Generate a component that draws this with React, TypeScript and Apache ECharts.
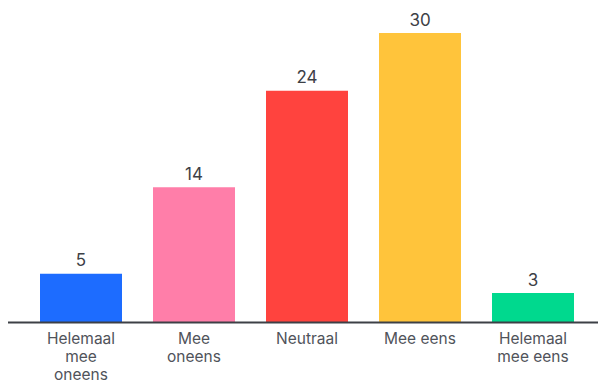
import React, { useEffect, useRef } from "react";
import * as echarts from "echarts";

const categories = ["Helemaal\nmee\noneens", "Mee\noneens", "Neutraal", "Mee eens", "Helemaal\nmee eens"];
const values = [5, 14, 24, 30, 3];
const colors = ["#1d6cff", "#ff7ea9", "#ff433e", "#ffc43b", "#00d98e"];

export default function App() {
  const ref = useRef<HTMLDivElement>(null);
  useEffect(() => {
    if (!ref.current) return;
    const chart = echarts.init(ref.current, null, { renderer: "svg" });
    chart.setOption({
      animation: false,
      grid: { left: 24.5, width: 565, top: 33, bottom: 61 },
      xAxis: {
        type: "category",
        data: categories,
        axisLine: { show: false },
        axisTick: { show: false },
        axisLabel: {
          color: "#50535a",
          fontFamily: "Inter",
          fontSize: 15.5,
          lineHeight: 18,
          margin: 7,
          interval: 0,
        },
      },
      yAxis: {
        type: "value",
        min: 0,
        max: 30,
        show: false,
        splitLine: { show: false },
      },
      graphic: [
        {
          type: "line",
          shape: { x1: 8, y1: 322.5, x2: 598, y2: 322.5 },
          style: { stroke: "#3d4046", lineWidth: 2 },
          z: 10,
        },
      ],
      series: [
        {
          type: "bar",
          barWidth: 82,
          data: values.map((v, i) => ({ value: v, itemStyle: { color: colors[i] } })),
          label: {
            show: true,
            position: "top",
            distance: 5,
            color: "#3d4046",
            fontFamily: "Inter",
            fontSize: 17,
          },
        },
      ],
    });
    return () => chart.dispose();
  }, []);
  return <div ref={ref} style={{ width: 599, height: 383, position: "absolute", left: 0, top: 0 }} />;
}
